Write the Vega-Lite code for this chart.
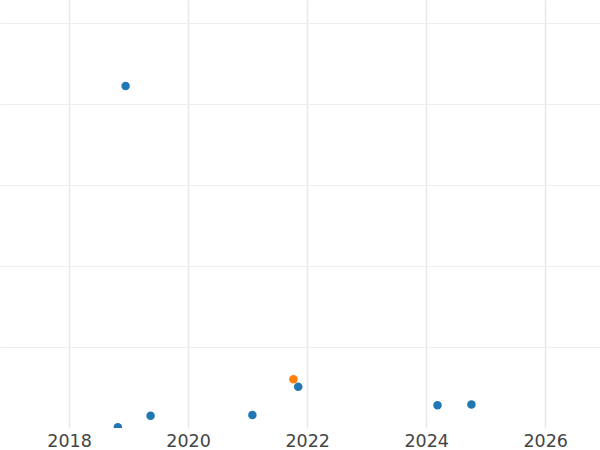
{
  "$schema": "https://vega.github.io/schema/vega-lite/v6.json",
  "width": 600,
  "height": 428,
  "padding": 0,
  "background": "white",
  "config": {"view": {"stroke": null}, "font": "DejaVu Sans"},
  "data": {"values": [
    {"year": 2018.95, "value": 4.22, "group": "A"},
    {"year": 2018.82, "value": 0.01, "group": "A"},
    {"year": 2019.37, "value": 0.15, "group": "A"},
    {"year": 2021.08, "value": 0.16, "group": "A"},
    {"year": 2021.77, "value": 0.60, "group": "B"},
    {"year": 2021.85, "value": 0.51, "group": "A"},
    {"year": 2024.19, "value": 0.28, "group": "A"},
    {"year": 2024.76, "value": 0.29, "group": "A"}
  ]},
  "mark": {"type": "circle", "size": 72, "opacity": 1, "clip": true},
  "encoding": {
    "x": {"field": "year", "type": "quantitative",
      "scale": {"domain": [2016.84, 2026.92], "nice": false, "zero": false},
      "axis": {"title": null, "values": [2018, 2020, 2022, 2024, 2026], "format": "d", "domain": false, "ticks": false,
        "labelFontSize": 17.5, "labelColor": "#444", "labelPadding": 4, "gridColor": "#e8e8e8", "gridWidth": 1.5}},
    "y": {"field": "value", "type": "quantitative",
      "scale": {"domain": [0, 5.28], "nice": false},
      "axis": {"title": null, "values": [1, 2, 3, 4, 5], "labels": false, "domain": false, "ticks": false, "gridColor": "#eeeeee", "gridWidth": 1}},
    "color": {"field": "group", "type": "nominal", "scale": {"domain": ["A", "B"], "range": ["#1f77b4", "#ff7f0e"]}, "legend": null}
  }
}
